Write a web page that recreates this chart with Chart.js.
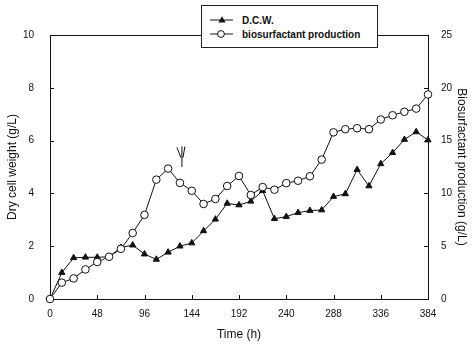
<!DOCTYPE html>
<html>
<head>
<meta charset="utf-8">
<script src="https://cdn.jsdelivr.net/npm/chart.js@4.4.0/dist/chart.umd.min.js"></script>
<style>
  body { margin: 0; background: #fff; }
  #wrap { position: relative; width: 472px; height: 344px; }
  #legend {
    position: absolute; left: 201px; top: 5px; width: 175px; height: 41px;
    border: 1px solid #222; background: #fff;
    font: bold 10px "Liberation Sans", Arial, sans-serif; color: #111;
  }
  .row { position: absolute; left: 8px; height: 12px; display: flex; align-items: center; white-space: nowrap; }
  .row svg { margin-right: 9px; }
</style>
</head>
<body>
<div id="wrap">
  <canvas id="chart" width="472" height="344"></canvas>
  <div id="legend">
    <div class="row" style="top:8px">
      <svg width="23" height="10"><line x1="0" y1="5" x2="23" y2="5" stroke="#111"/><polygon points="12,1.2 15.6,7.4 8.4,7.4" fill="#111"/></svg>D.C.W.
    </div>
    <div class="row" style="top:22px">
      <svg width="23" height="10"><line x1="0" y1="5" x2="23" y2="5" stroke="#111"/><circle cx="11" cy="5" r="3.4" fill="#fff" stroke="#111"/></svg>biosurfactant production
    </div>
  </div>
</div>
<script>
// ------------------- DATA -------------------
const hours = [0, 12, 24, 36, 48, 60, 72, 84, 96, 108, 120, 132, 144, 156, 168, 180, 192,
  204, 216, 228, 240, 252, 264, 276, 288, 300, 312, 324, 336, 348, 360, 372, 384];

// dry cell weight, g/L (left axis)
const dcw = [0, 1.0, 1.56, 1.58, 1.58, 1.6, 1.95, 2.04, 1.7, 1.5, 1.77, 2.0, 2.12, 2.58,
  3.02, 3.62, 3.56, 3.7, 4.1, 3.04, 3.12, 3.27, 3.35, 3.37, 3.88, 3.98, 4.9, 4.28, 5.12,
  5.54, 6.04, 6.33, 6.02];

// biosurfactant production, g/L (right axis)
const biosurfactant = [0, 1.55, 1.95, 2.8, 3.5, 4.0, 4.75, 6.25, 7.97, 11.3, 12.35, 11.0,
  10.25, 9.0, 9.47, 10.7, 11.65, 9.85, 10.6, 10.35, 10.97, 11.2, 11.62, 13.2, 15.78, 16.08,
  16.17, 16.08, 17.0, 17.4, 17.73, 18.03, 19.37];

const xTicks = [0, 48, 96, 144, 192, 240, 288, 336, 384];
const leftTicks = [0, 2, 4, 6, 8, 10];
const rightTicks = [0, 5, 10, 15, 20, 25];

// arrow mark near the biosurfactant peak (time, dcw-axis top, dcw-axis tip)
const arrowAt = { x: 134, top: 5.78, tip: 5.0 };

const INK = "#111";
const FONT = "'Liberation Sans', Arial, sans-serif";

// ------------------- PLUGINS -------------------
// box round the plot, inward tick marks, and the little arrow
const framePlugin = {
  id: "frame",
  beforeDatasetsDraw(chart) {
    const { ctx, chartArea: a, scales } = chart;
    ctx.save();
    ctx.strokeStyle = INK;
    ctx.lineWidth = 1;
    ctx.strokeRect(a.left + 0.5, a.top + 0.5, a.right - a.left, a.bottom - a.top);
    ctx.beginPath();
    xTicks.forEach(v => {
      const px = Math.round(scales.x.getPixelForValue(v)) + 0.5;
      ctx.moveTo(px, a.bottom); ctx.lineTo(px, a.bottom - 4);
    });
    leftTicks.forEach(v => {
      const py = Math.round(scales.y.getPixelForValue(v)) + 0.5;
      ctx.moveTo(a.left, py); ctx.lineTo(a.left + 4, py);
    });
    rightTicks.forEach(v => {
      const py = Math.round(scales.y2.getPixelForValue(v)) + 0.5;
      ctx.moveTo(a.right, py); ctx.lineTo(a.right - 4, py);
    });
    ctx.stroke();
    ctx.restore();
  },
  afterDatasetsDraw(chart) {
    const { ctx, scales } = chart;
    const x = scales.x.getPixelForValue(arrowAt.x);
    const yTop = scales.y.getPixelForValue(arrowAt.top);
    const yTip = scales.y.getPixelForValue(arrowAt.tip);
    const mid = yTop + (yTip - yTop) * 0.55;
    ctx.save();
    ctx.strokeStyle = INK;
    ctx.lineWidth = 1;
    ctx.beginPath();
    ctx.moveTo(x, yTop); ctx.lineTo(x, yTip);
    ctx.moveTo(x - 5, yTop + 1); ctx.lineTo(x - 1, mid);
    ctx.moveTo(x + 3, yTop); ctx.lineTo(x + 1, mid);
    ctx.stroke();
    ctx.restore();
  }
};

// ------------------- CHART -------------------
const ctx = document.getElementById("chart").getContext("2d");

new Chart(ctx, {
  type: "line",
  data: {
    datasets: [
      {
        label: "D.C.W.",
        data: hours.map((h, i) => ({ x: h, y: dcw[i] })),
        yAxisID: "y",
        borderColor: INK,
        borderWidth: 1,
        pointStyle: "triangle",
        pointRadius: 3.6,
        pointBackgroundColor: INK,
        pointBorderColor: INK,
        pointBorderWidth: 1,
        tension: 0,
        clip: false,
        order: 1
      },
      {
        label: "biosurfactant production",
        data: hours.map((h, i) => ({ x: h, y: biosurfactant[i] })),
        yAxisID: "y2",
        borderColor: INK,
        borderWidth: 1,
        pointStyle: "circle",
        pointRadius: 3.8,
        pointBackgroundColor: "#fff",
        pointBorderColor: INK,
        pointBorderWidth: 1,
        tension: 0,
        clip: false,
        order: 0
      }
    ]
  },
  options: {
    responsive: false,
    animation: false,
    devicePixelRatio: 1,
    layout: { padding: { top: 35, left: 0, right: 0, bottom: 0 } },
    plugins: {
      legend: { display: false },
      tooltip: { enabled: false }
    },
    scales: {
      x: {
        type: "linear",
        min: 0,
        max: 384,
        afterBuildTicks: s => { s.ticks = xTicks.map(v => ({ value: v })); },
        afterFit: s => { s.height = 45; },
        grid: { display: false },
        border: { display: false },
        ticks: { padding: 1, color: INK, font: { family: FONT, size: 10 }, maxRotation: 0 },
        title: { display: true, text: "Time (h)", color: INK, font: { family: FONT, size: 12 }, padding: { top: 0, bottom: 2 } }
      },
      y: {
        position: "left",
        min: 0,
        max: 10,
        afterBuildTicks: s => { s.ticks = leftTicks.map(v => ({ value: v })); },
        afterFit: s => { s.width = 50; },
        grid: { display: false },
        border: { display: false },
        ticks: { padding: 8, color: INK, font: { family: FONT, size: 10 } },
        title: { display: true, text: "Dry cell weight (g/L)", color: INK, font: { family: FONT, size: 12 }, padding: { top: 5, bottom: 0 } }
      },
      y2: {
        position: "right",
        min: 0,
        max: 25,
        afterBuildTicks: s => { s.ticks = rightTicks.map(v => ({ value: v })); },
        afterFit: s => { s.width = 44; },
        grid: { display: false },
        border: { display: false },
        ticks: { padding: 5, color: INK, font: { family: FONT, size: 10 } },
        title: { display: true, text: "Biosurfactant production (g/L)", color: INK, font: { family: FONT, size: 12 }, padding: { top: 3, bottom: 0 } }
      }
    }
  },
  plugins: [framePlugin]
});
</script>
</body>
</html>
